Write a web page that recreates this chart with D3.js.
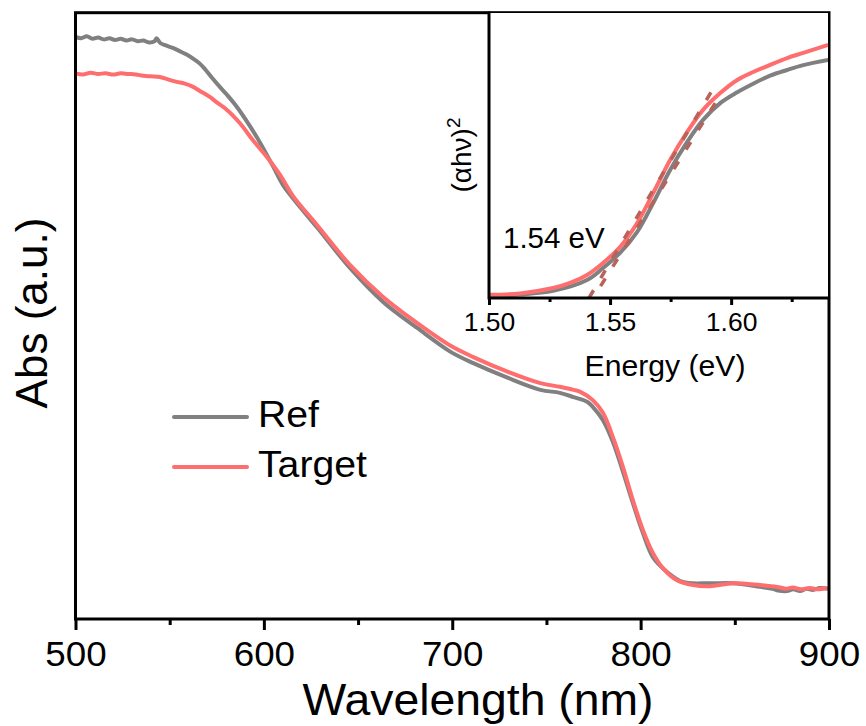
<!DOCTYPE html>
<html><head><meta charset="utf-8">
<script src="https://cdn.jsdelivr.net/npm/d3@7"></script>
<style>body{margin:0;background:#fff}</style>
</head><body>
<svg id="c" width="866" height="726"></svg>
<script>
// ---------- main spectrum data ----------
const refWl  = [500,503,506,509,512,515,518,521,524,527,530,533,536,539,542,543,545,548,551.6,555,559,563,566,569,572.9,576.5,580.3,585.6,592.6,597.9,604.8,610.1,615.4,628.2,645.7,663.3,681.4,698.9,711.2,729.3,746.8,757.1,764.4,771.8,774.6,780,785.3,790.6,795.9,801.2,806.5,813.9,822.4,836.8,849,863.4,870,873,877.7,881,884.6,888,891.5,895,899.5];
const refAbs = [0.960,0.958,0.961,0.957,0.959,0.956,0.958,0.955,0.957,0.954,0.956,0.953,0.954,0.951,0.953,0.958,0.950,0.946,0.942,0.937,0.931,0.923,0.916,0.906,0.891,0.878,0.865,0.845,0.813,0.786,0.747,0.716,0.694,0.646,0.579,0.523,0.480,0.441,0.422,0.398,0.378,0.373,0.366,0.358,0.350,0.328,0.292,0.243,0.191,0.142,0.102,0.078,0.061,0.059,0.059,0.053,0.050,0.047,0.046,0.049,0.046,0.050,0.048,0.051,0.050];
const tgtWl  = [500,504,508,512,516,520,524,528,532,536,540,544.7,549,553.7,558,562.2,566,571.3,575,580.3,587.2,594.1,601.6,608.5,615.4,628.2,645.7,663.3,681.4,698.9,711.2,729.3,746.8,757.1,764.4,767.7,774.6,780,785.3,790.6,795.9,801.2,806.5,811.8,819.3,827.8,836.8,849,863.4,872.4,877,880.9,885,889.9,894,898.9];
const tgtAbs = [0.900,0.898,0.901,0.899,0.900,0.898,0.900,0.899,0.898,0.896,0.895,0.894,0.890,0.886,0.883,0.878,0.871,0.861,0.852,0.840,0.818,0.790,0.762,0.733,0.698,0.650,0.584,0.531,0.488,0.451,0.432,0.408,0.389,0.383,0.378,0.375,0.361,0.340,0.300,0.251,0.196,0.147,0.109,0.084,0.064,0.056,0.054,0.059,0.056,0.053,0.050,0.052,0.049,0.051,0.049,0.051];
const xTicks = [500,600,700,800,900];
const xMinor = [550,650,750,850];

// ---------- inset Tauc data ----------
const refE   = [1.500,1.5128,1.5264,1.5405,1.5471,1.5541,1.5612,1.5678,1.5748,1.5818,1.5884,1.5955,1.6025,1.6091,1.6161,1.6231,1.6298,1.6401];
const refT   = [0.007,0.012,0.025,0.063,0.105,0.158,0.232,0.333,0.449,0.547,0.625,0.684,0.722,0.752,0.780,0.800,0.817,0.835];
const tgtE   = [1.500,1.5128,1.5264,1.5335,1.5405,1.5471,1.5541,1.5612,1.5678,1.5748,1.5818,1.5884,1.5955,1.6025,1.6091,1.6161,1.6231,1.6298,1.6401];
const tgtT   = [0.011,0.016,0.035,0.053,0.081,0.123,0.179,0.263,0.368,0.484,0.582,0.660,0.719,0.765,0.793,0.818,0.842,0.860,0.888];
const fitA_E = [1.5413,1.5926];
const fitA_T = [0.0,0.735];
const fitB_E = [1.5430,1.5946];
const fitB_T = [0.0,0.700];
const eTicks = [1.50,1.55,1.60];
const eMinor = [1.525,1.575,1.625];

const seriesNames = ["Ref","Target"];
const colors = ["#808080","#ff6e6e"];
const fitColor = "#b9625a";

const FONT = '"Liberation Sans", Arial, Helvetica, sans-serif';
const svg = d3.select("#c");

const M = {l:75.5, r:829, t:12.7, b:619};
const x = d3.scaleLinear().domain([500,900]).range([M.l, M.r]);
const y = d3.scaleLinear().domain([0,1]).range([M.b, M.t]);

svg.append("clipPath").attr("id","mainclip").append("rect")
  .attr("x",M.l).attr("y",M.t).attr("width",M.r-M.l).attr("height",M.b-M.t);

const line = d3.line().x(d=>x(d[0])).y(d=>y(d[1])).curve(d3.curveCatmullRom.alpha(0.5));
const gMain = svg.append("g").attr("clip-path","url(#mainclip)");
gMain.append("path").datum(refWl.map((w,i)=>[w,refAbs[i]]))
  .attr("d",line).attr("fill","none").attr("stroke",colors[0]).attr("stroke-width",4).attr("stroke-linejoin","round");
gMain.append("path").datum(tgtWl.map((w,i)=>[w,tgtAbs[i]]))
  .attr("d",line).attr("fill","none").attr("stroke",colors[1]).attr("stroke-width",4).attr("stroke-linejoin","round");

// main x axis
const gx = svg.append("g").attr("transform",`translate(0,${M.b})`)
  .call(d3.axisBottom(x).tickValues(xTicks).tickSize(11).tickSizeOuter(0).tickPadding(11).tickFormat(d3.format("d")));
gx.select(".domain").remove();
gx.selectAll("line").attr("stroke","#000").attr("stroke-width",3);
gx.selectAll("text").attr("font-size",35).attr("font-family",FONT).attr("fill","#000").attr("transform","scale(1.05,1)");
const gxm = svg.append("g").attr("transform",`translate(0,${M.b})`)
  .call(d3.axisBottom(x).tickValues(xMinor).tickSize(6).tickSizeOuter(0).tickFormat(""));
gxm.select(".domain").remove();
gxm.selectAll("line").attr("stroke","#000").attr("stroke-width",3);

// frame
svg.append("rect").attr("x",M.l).attr("y",M.t).attr("width",M.r-M.l).attr("height",M.b-M.t)
  .attr("fill","none").attr("stroke","#000").attr("stroke-width",3);

// axis titles
svg.append("g").attr("transform","translate(478,715)").append("text")
  .attr("text-anchor","middle").attr("font-family",FONT).attr("font-size",45)
  .attr("transform","scale(1.03,1)").text("Wavelength (nm)");
svg.append("text").attr("transform","translate(47,313) rotate(-90)")
  .attr("text-anchor","middle").attr("font-family",FONT).attr("font-size",44).text("Abs (a.u.)");

// legend
const legY = [417,467];
seriesNames.forEach((n,i)=>{
  svg.append("line").attr("x1",174).attr("x2",247).attr("y1",legY[i]).attr("y2",legY[i])
    .attr("stroke",colors[i]).attr("stroke-width",4).attr("stroke-linecap","round");
  svg.append("g").attr("transform",`translate(258,${legY[i]+10})`).append("text")
    .attr("font-family",FONT).attr("font-size",37).attr("transform","scale(1.06,1)").text(n);
});

// ---------- inset ----------
const I = {l:489, r:828, t:13, b:298};
const ix = d3.scaleLinear().domain([1.50,1.64]).range([I.l, I.r]);
const iy = d3.scaleLinear().domain([0,1]).range([I.b, I.t]);
svg.append("rect").attr("x",I.l).attr("y",I.t).attr("width",I.r-I.l).attr("height",I.b-I.t).attr("fill","#fff");
svg.append("clipPath").attr("id","insclip").append("rect")
  .attr("x",I.l).attr("y",I.t).attr("width",I.r-I.l).attr("height",I.b-I.t);
const iline = d3.line().x(d=>ix(d[0])).y(d=>iy(d[1])).curve(d3.curveCatmullRom.alpha(0.5));
const gIns = svg.append("g").attr("clip-path","url(#insclip)");
gIns.append("path").datum(refE.map((e,i)=>[e,refT[i]]))
  .attr("d",iline).attr("fill","none").attr("stroke",colors[0]).attr("stroke-width",4);
gIns.append("path").datum(tgtE.map((e,i)=>[e,tgtT[i]]))
  .attr("d",iline).attr("fill","none").attr("stroke",colors[1]).attr("stroke-width",4);
[[fitA_E,fitA_T,0],[fitB_E,fitB_T,9]].forEach(([E,T,off])=>{
  gIns.append("path").datum(E.map((e,i)=>[e,T[i]]))
    .attr("d",d3.line().x(d=>ix(d[0])).y(d=>iy(d[1]))).attr("fill","none")
    .attr("stroke",fitColor).attr("stroke-width",3.5).attr("stroke-dasharray","9,14").attr("stroke-dashoffset",off);
});

const gix = svg.append("g").attr("transform",`translate(0,${I.b})`)
  .call(d3.axisBottom(ix).tickValues(eTicks).tickSize(7).tickSizeOuter(0).tickPadding(8).tickFormat(d3.format(".2f")));
gix.select(".domain").remove();
gix.selectAll("line").attr("stroke","#000").attr("stroke-width",3);
gix.selectAll("text").attr("font-size",25).attr("font-family",FONT).attr("fill","#000").attr("transform","scale(1.06,1)");
const gixm = svg.append("g").attr("transform",`translate(0,${I.b})`)
  .call(d3.axisBottom(ix).tickValues(eMinor).tickSize(4).tickSizeOuter(0).tickFormat(""));
gixm.select(".domain").remove();
gixm.selectAll("line").attr("stroke","#000").attr("stroke-width",3);

svg.append("line").attr("x1",I.l).attr("x2",I.l).attr("y1",I.t-1.5).attr("y2",I.b+1.5).attr("stroke","#000").attr("stroke-width",3);
svg.append("line").attr("x1",I.l).attr("x2",I.r).attr("y1",I.b).attr("y2",I.b).attr("stroke","#000").attr("stroke-width",3);

svg.append("g").attr("transform","translate(665,376)").append("text")
  .attr("text-anchor","middle").attr("font-family",FONT).attr("font-size",29)
  .attr("transform","scale(1.04,1)").text("Energy (eV)");
const yl = svg.append("text").attr("transform","translate(471,155) rotate(-90)")
  .attr("text-anchor","middle").attr("font-family",FONT).attr("font-size",28);
yl.append("tspan").text("(αhν)");
yl.append("tspan").attr("dy",-11).attr("font-size",19).text("2");

svg.append("text").attr("x",503).attr("y",248).attr("font-family",FONT).attr("font-size",29.5).text("1.54 eV");
</script>
</body></html>
